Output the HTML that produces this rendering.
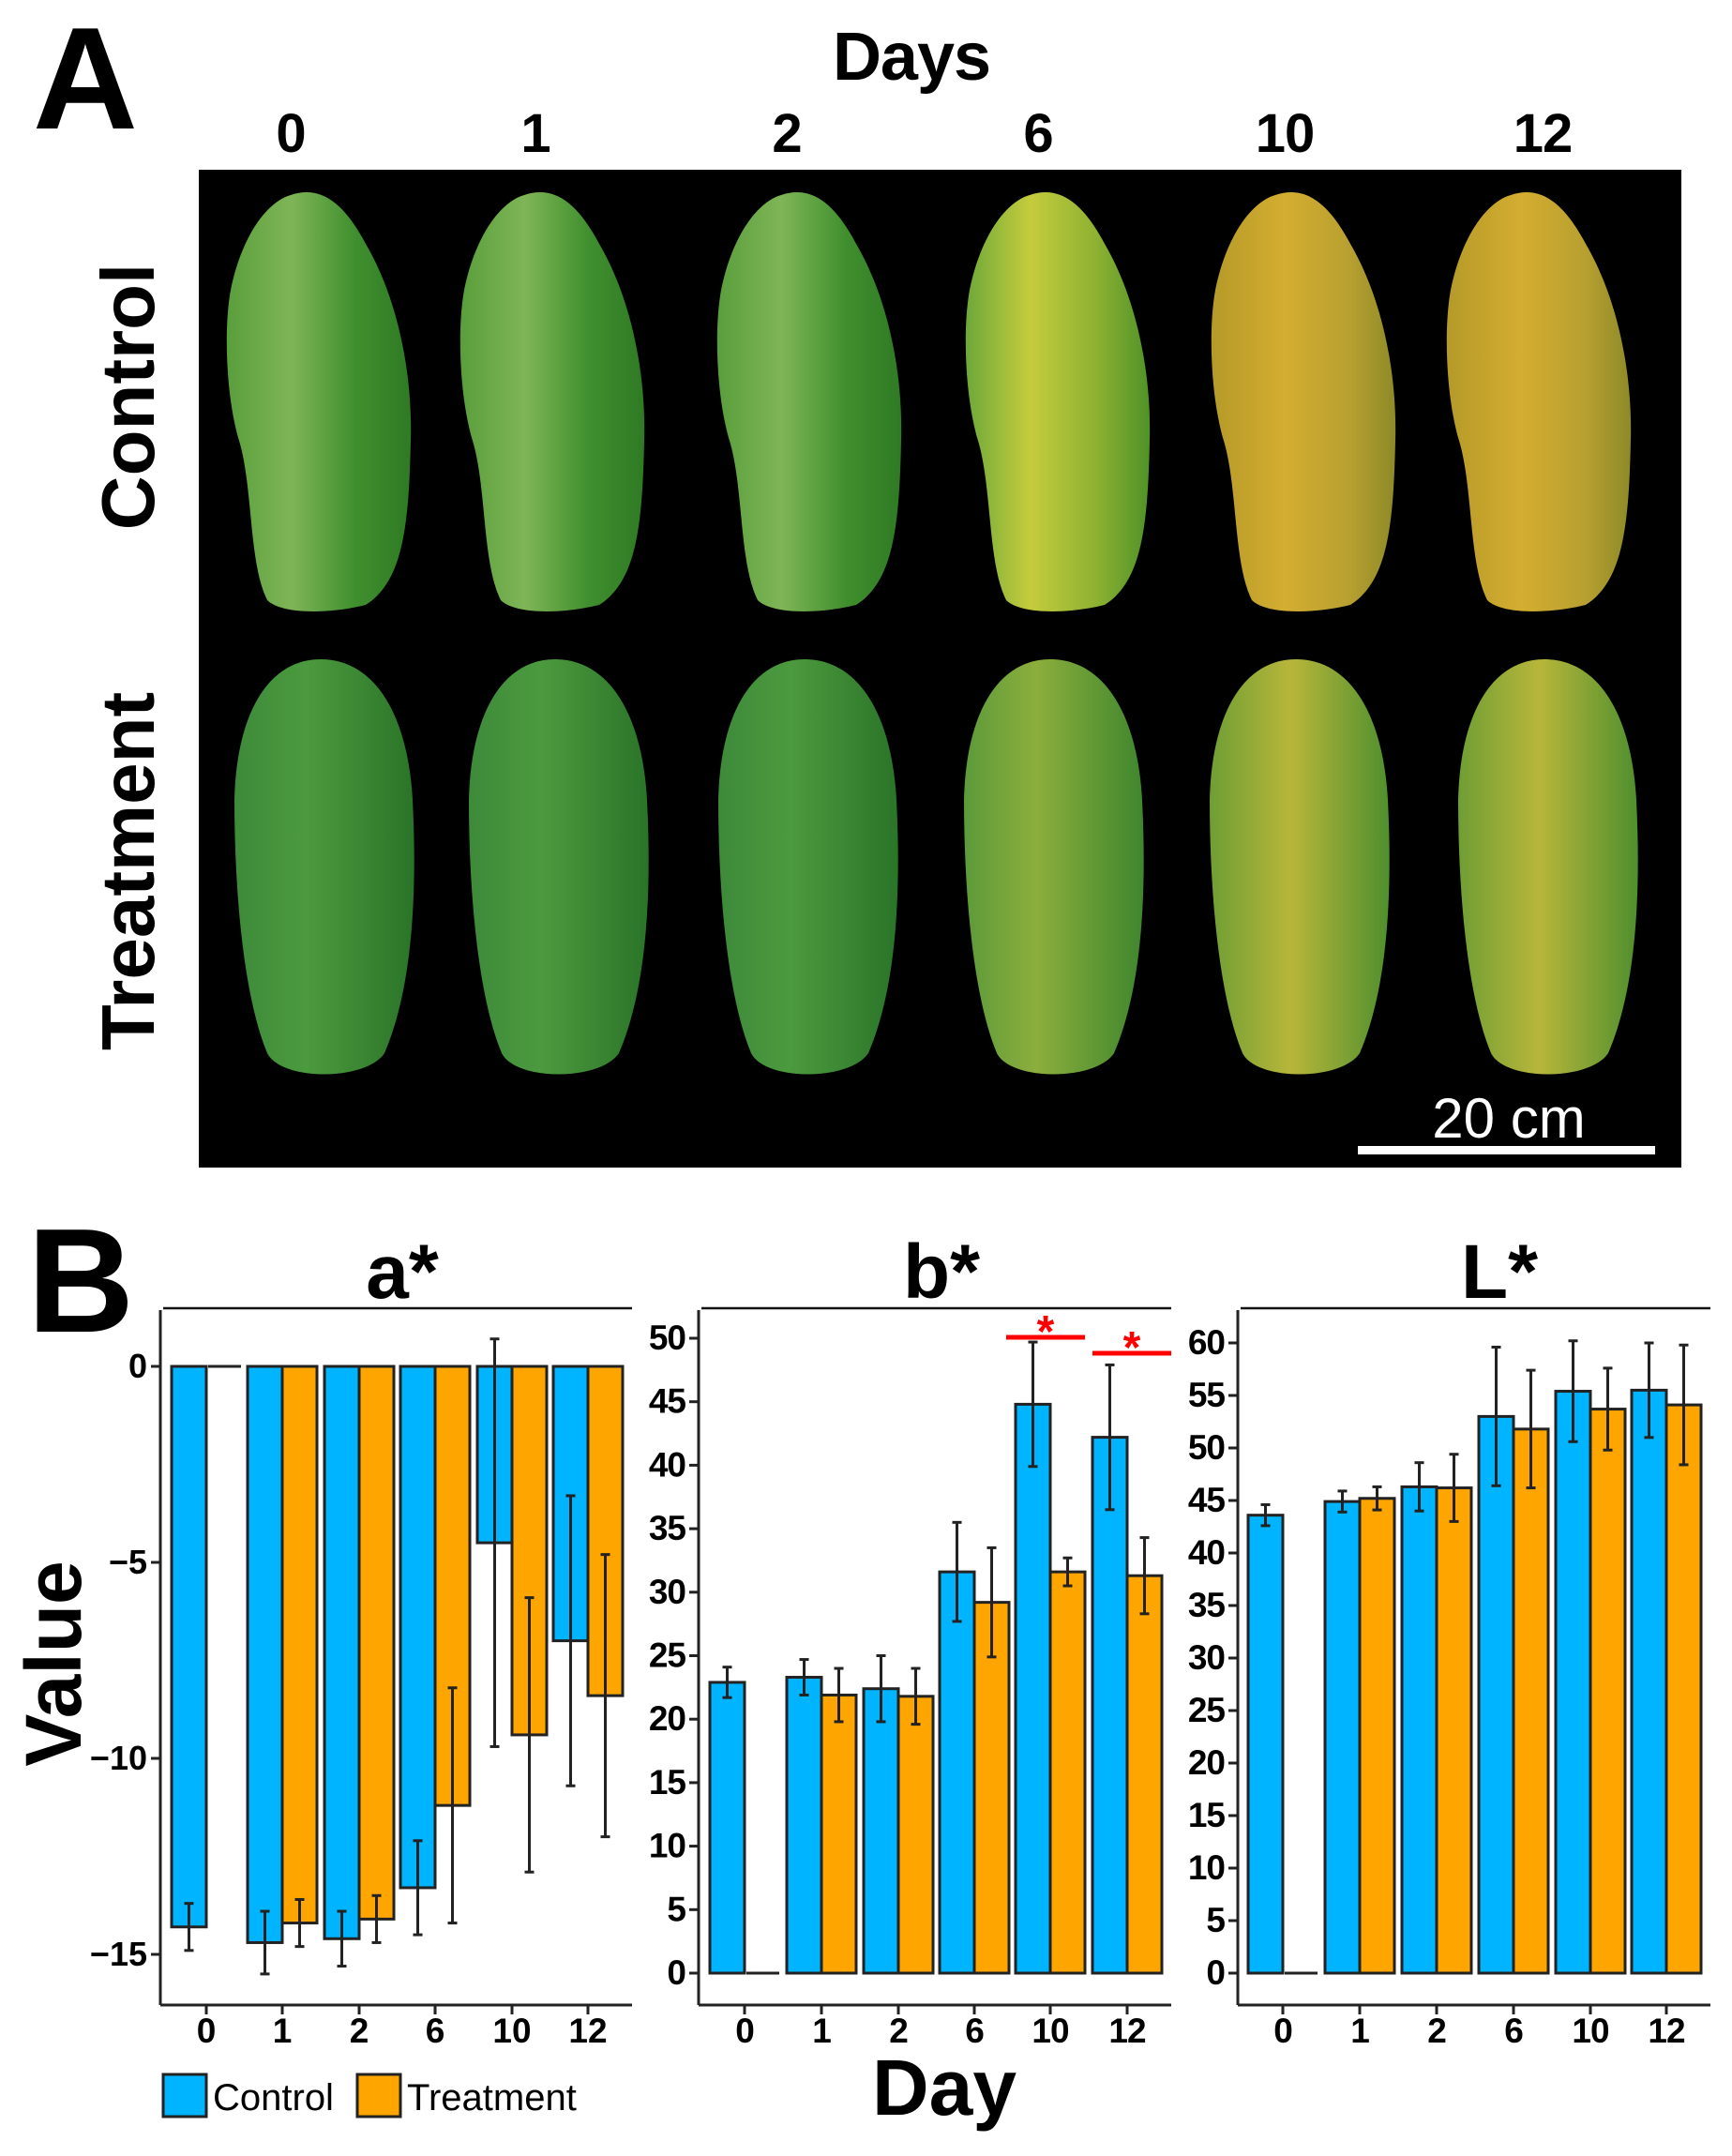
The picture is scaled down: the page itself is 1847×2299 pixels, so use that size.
<!DOCTYPE html>
<html><head><meta charset="utf-8"><style>
html,body{margin:0;padding:0;background:#fff}
svg{display:block}
text{font-family:"Liberation Sans",sans-serif}
.n{font-family:"Liberation Sans Narrow","Liberation Sans",sans-serif;letter-spacing:-1px}
</style></head><body>
<svg id="s" width="1847" height="2299" viewBox="0 0 1847 2299" xmlns="http://www.w3.org/2000/svg">
<defs>
<linearGradient id="g0" x1="0" x2="1"><stop offset="0" stop-color="#5a9e3c"/><stop offset="0.35" stop-color="#7fb556"/><stop offset="0.7" stop-color="#3f8f2e"/><stop offset="1" stop-color="#2f7a24"/></linearGradient>
<linearGradient id="g6" x1="0" x2="1"><stop offset="0" stop-color="#6da83a"/><stop offset="0.35" stop-color="#c5cc3c"/><stop offset="0.7" stop-color="#8fb232"/><stop offset="1" stop-color="#4f9228"/></linearGradient>
<linearGradient id="g10" x1="0" x2="1"><stop offset="0" stop-color="#b59a28"/><stop offset="0.4" stop-color="#d4ad30"/><stop offset="0.75" stop-color="#b8a030"/><stop offset="1" stop-color="#8d8a28"/></linearGradient>
<linearGradient id="t0" x1="0" x2="1"><stop offset="0" stop-color="#3d8a3a"/><stop offset="0.4" stop-color="#4c9a3e"/><stop offset="1" stop-color="#2a7428"/></linearGradient>
<linearGradient id="t6" x1="0" x2="1"><stop offset="0" stop-color="#5c9a3a"/><stop offset="0.4" stop-color="#8cae3c"/><stop offset="1" stop-color="#3f862e"/></linearGradient>
<linearGradient id="t10" x1="0" x2="1"><stop offset="0" stop-color="#6f9e34"/><stop offset="0.45" stop-color="#b8b63a"/><stop offset="1" stop-color="#4f8f2e"/></linearGradient>
</defs>
<text x="35" y="137" font-size="155" font-weight="bold">A</text>
<text x="972" y="85" font-size="72" font-weight="bold" text-anchor="middle" class="n">Days</text>
<g font-size="58" font-weight="bold" text-anchor="middle" class="n">
<text x="310" y="162">0</text><text x="571" y="162">1</text><text x="839" y="162">2</text><text x="1107" y="162">6</text><text x="1370" y="162">10</text><text x="1645" y="162">12</text></g>
<text transform="translate(164,423) rotate(-90)" font-size="80" font-weight="bold" text-anchor="middle">Control</text>
<text transform="translate(164,929) rotate(-90)" font-size="80" font-weight="bold" text-anchor="middle">Treatment</text>
<rect x="212" y="181" width="1581" height="1064" fill="#000"/>
<g id="pap"></g>
<rect x="1448" y="1222" width="317" height="9" fill="#fff"/>
<text x="1609" y="1213" font-size="60" fill="#fff" text-anchor="middle">20 cm</text>
<text x="29" y="1420" font-size="158" font-weight="bold">B</text>
<text transform="translate(86,1774) rotate(-90)" font-size="84" font-weight="bold" text-anchor="middle">Value</text>
<text x="1007" y="2255" font-size="84" font-weight="bold" text-anchor="middle">Day</text>
<g id="charts"></g>
<rect x="174" y="2212" width="46" height="45" fill="#00b4ff" stroke="#222" stroke-width="3"/>
<text x="227" y="2250" font-size="40">Control</text>
<rect x="381" y="2212" width="46" height="45" fill="#ffa500" stroke="#222" stroke-width="3"/>
<text x="434" y="2250" font-size="40">Treatment</text>
</svg>
<script>
var NS="http://www.w3.org/2000/svg";
function el(p,t,a,txt){var e=document.createElementNS(NS,t);for(var k in a)e.setAttribute(k,a[k]);if(txt!==undefined)e.textContent=txt;p.appendChild(e);return e;}
var pap=document.getElementById('pap');
var cp="M70 5 C100 -5,125 10,150 57 C185 117,200 197,198 267 C196 357,190 417,150 442 C110 452,60 452,45 437 C25 397,30 317,15 267 C0 217,-2 137,8 97 C20 47,45 12,70 5Z";
var tp="M92 0 C150 0,185 60,190 150 C195 250,190 350,160 420 C140 450,50 450,35 420 C10 360,0 250,0 150 C2 60,35 0,92 0Z";
var cx=[240,489,763,1028,1290,1541],tx=[250,500,766,1028,1290,1555];
var cg=['g0','g0','g0','g6','g10','g10'],tg=['t0','t0','t0','t6','t10','t10'];
for(var i=0;i<6;i++){
 el(pap,'path',{d:cp,transform:'translate('+cx[i]+',203)',fill:'url(#'+cg[i]+')'});
 el(pap,'path',{d:tp,transform:'translate('+tx[i]+',703)',fill:'url(#'+tg[i]+')'});
}
var ch=document.getElementById('charts');
function panel(o){
 var y=function(v){return o.y0 - v*o.k;};
 el(ch,'line',{x1:o.ax+3,y1:1395,x2:o.right,y2:1395,stroke:'#111','stroke-width':2.5});
 el(ch,'line',{x1:o.ax,y1:1397,x2:o.ax,y2:2138,stroke:'#222','stroke-width':3});
 el(ch,'line',{x1:o.ax,y1:2138,x2:o.right,y2:2138,stroke:'#222','stroke-width':3});
 o.ticks.forEach(function(t){
  el(ch,'line',{x1:o.ax-10,y1:y(t),x2:o.ax,y2:y(t),stroke:'#222','stroke-width':3});
  el(ch,'text',{x:o.ax-14,y:y(t)+12,'font-size':o.fs,'font-weight':'bold','text-anchor':'end','class':o.cls},String(t).replace('-','\u2212'));
 });
 var days=['0','1','2','6','10','12'];
 o.cs.forEach(function(c,i){
  el(ch,'line',{x1:c,y1:2138,x2:c,y2:2148,stroke:'#222','stroke-width':3});
  el(ch,'text',{x:c,y:2178,'font-size':37,'font-weight':'bold','text-anchor':'middle','class':o.cls},days[i]);
  var d=o.d[i];
  [[d[0],d[1],c-37,'#00b4ff'],[d[2],d[3],c,'#ffa500']].forEach(function(b){
   if(b[0]===0){el(ch,'line',{x1:b[2]+2,y1:o.y0,x2:b[2]+37,y2:o.y0,stroke:'#222','stroke-width':3});return;}
   var y1=y(b[0]),top=Math.min(y1,o.y0),h=Math.abs(y1-o.y0);
   el(ch,'rect',{x:b[2],y:top,width:37,height:h,fill:b[3],stroke:'#222','stroke-width':3});
   var m=b[2]+18.5;
   el(ch,'line',{x1:m,y1:y(b[0]+b[1]),x2:m,y2:y(b[0]-b[1]),stroke:'#222','stroke-width':3});
   el(ch,'line',{x1:m-5,y1:y(b[0]+b[1]),x2:m+5,y2:y(b[0]+b[1]),stroke:'#222','stroke-width':3});
   el(ch,'line',{x1:m-5,y1:y(b[0]-b[1]),x2:m+5,y2:y(b[0]-b[1]),stroke:'#222','stroke-width':3});
  });
 });
 el(ch,'text',{x:o.tx,y:1384,'font-size':82,'font-weight':'bold','text-anchor':'middle'},o.title);
}
panel({ax:171,right:674,y0:1457,k:41.8,ticks:[0,-5,-10,-15],fs:36,cls:'',cs:[220,301,383,464,546,627],title:'a*',tx:429,
 d:[[-14.3,0.6,0,0],[-14.7,0.8,-14.2,0.6],[-14.6,0.7,-14.1,0.6],[-13.3,1.2,-11.2,3],[-4.5,5.2,-9.4,3.5],[-7,3.7,-8.4,3.6]]});
panel({ax:745,right:1249,y0:2104,k:13.54,ticks:[0,5,10,15,20,25,30,35,40,45,50],fs:37,cls:'n',cs:[794,876,958,1039,1120,1202],title:'b*',tx:1004,
 d:[[22.9,1.2,0,0],[23.3,1.4,21.9,2.1],[22.4,2.6,21.8,2.2],[31.6,3.9,29.2,4.3],[44.8,4.9,31.6,1.1],[42.2,5.7,31.3,3.0]]});
panel({ax:1320,right:1824,y0:2104,k:11.2,ticks:[0,5,10,15,20,25,30,35,40,45,50,55,60],fs:37,cls:'n',cs:[1368,1450,1532,1614,1696,1777],title:'L*',tx:1599,
 d:[[43.6,1,0,0],[44.9,1,45.2,1.1],[46.3,2.3,46.2,3.2],[53,6.6,51.8,5.6],[55.4,4.8,53.7,3.9],[55.5,4.5,54.1,5.7]]});
el(ch,'line',{x1:1073,y1:1426,x2:1157,y2:1426,stroke:'#f00','stroke-width':5});
el(ch,'line',{x1:1165,y1:1443,x2:1249,y2:1443,stroke:'#f00','stroke-width':5});
el(ch,'text',{x:1115,y:1436,'font-size':48,'font-weight':'bold',fill:'#f00','text-anchor':'middle'},'*');
el(ch,'text',{x:1207,y:1453,'font-size':48,'font-weight':'bold',fill:'#f00','text-anchor':'middle'},'*');
</script>
</body></html>
